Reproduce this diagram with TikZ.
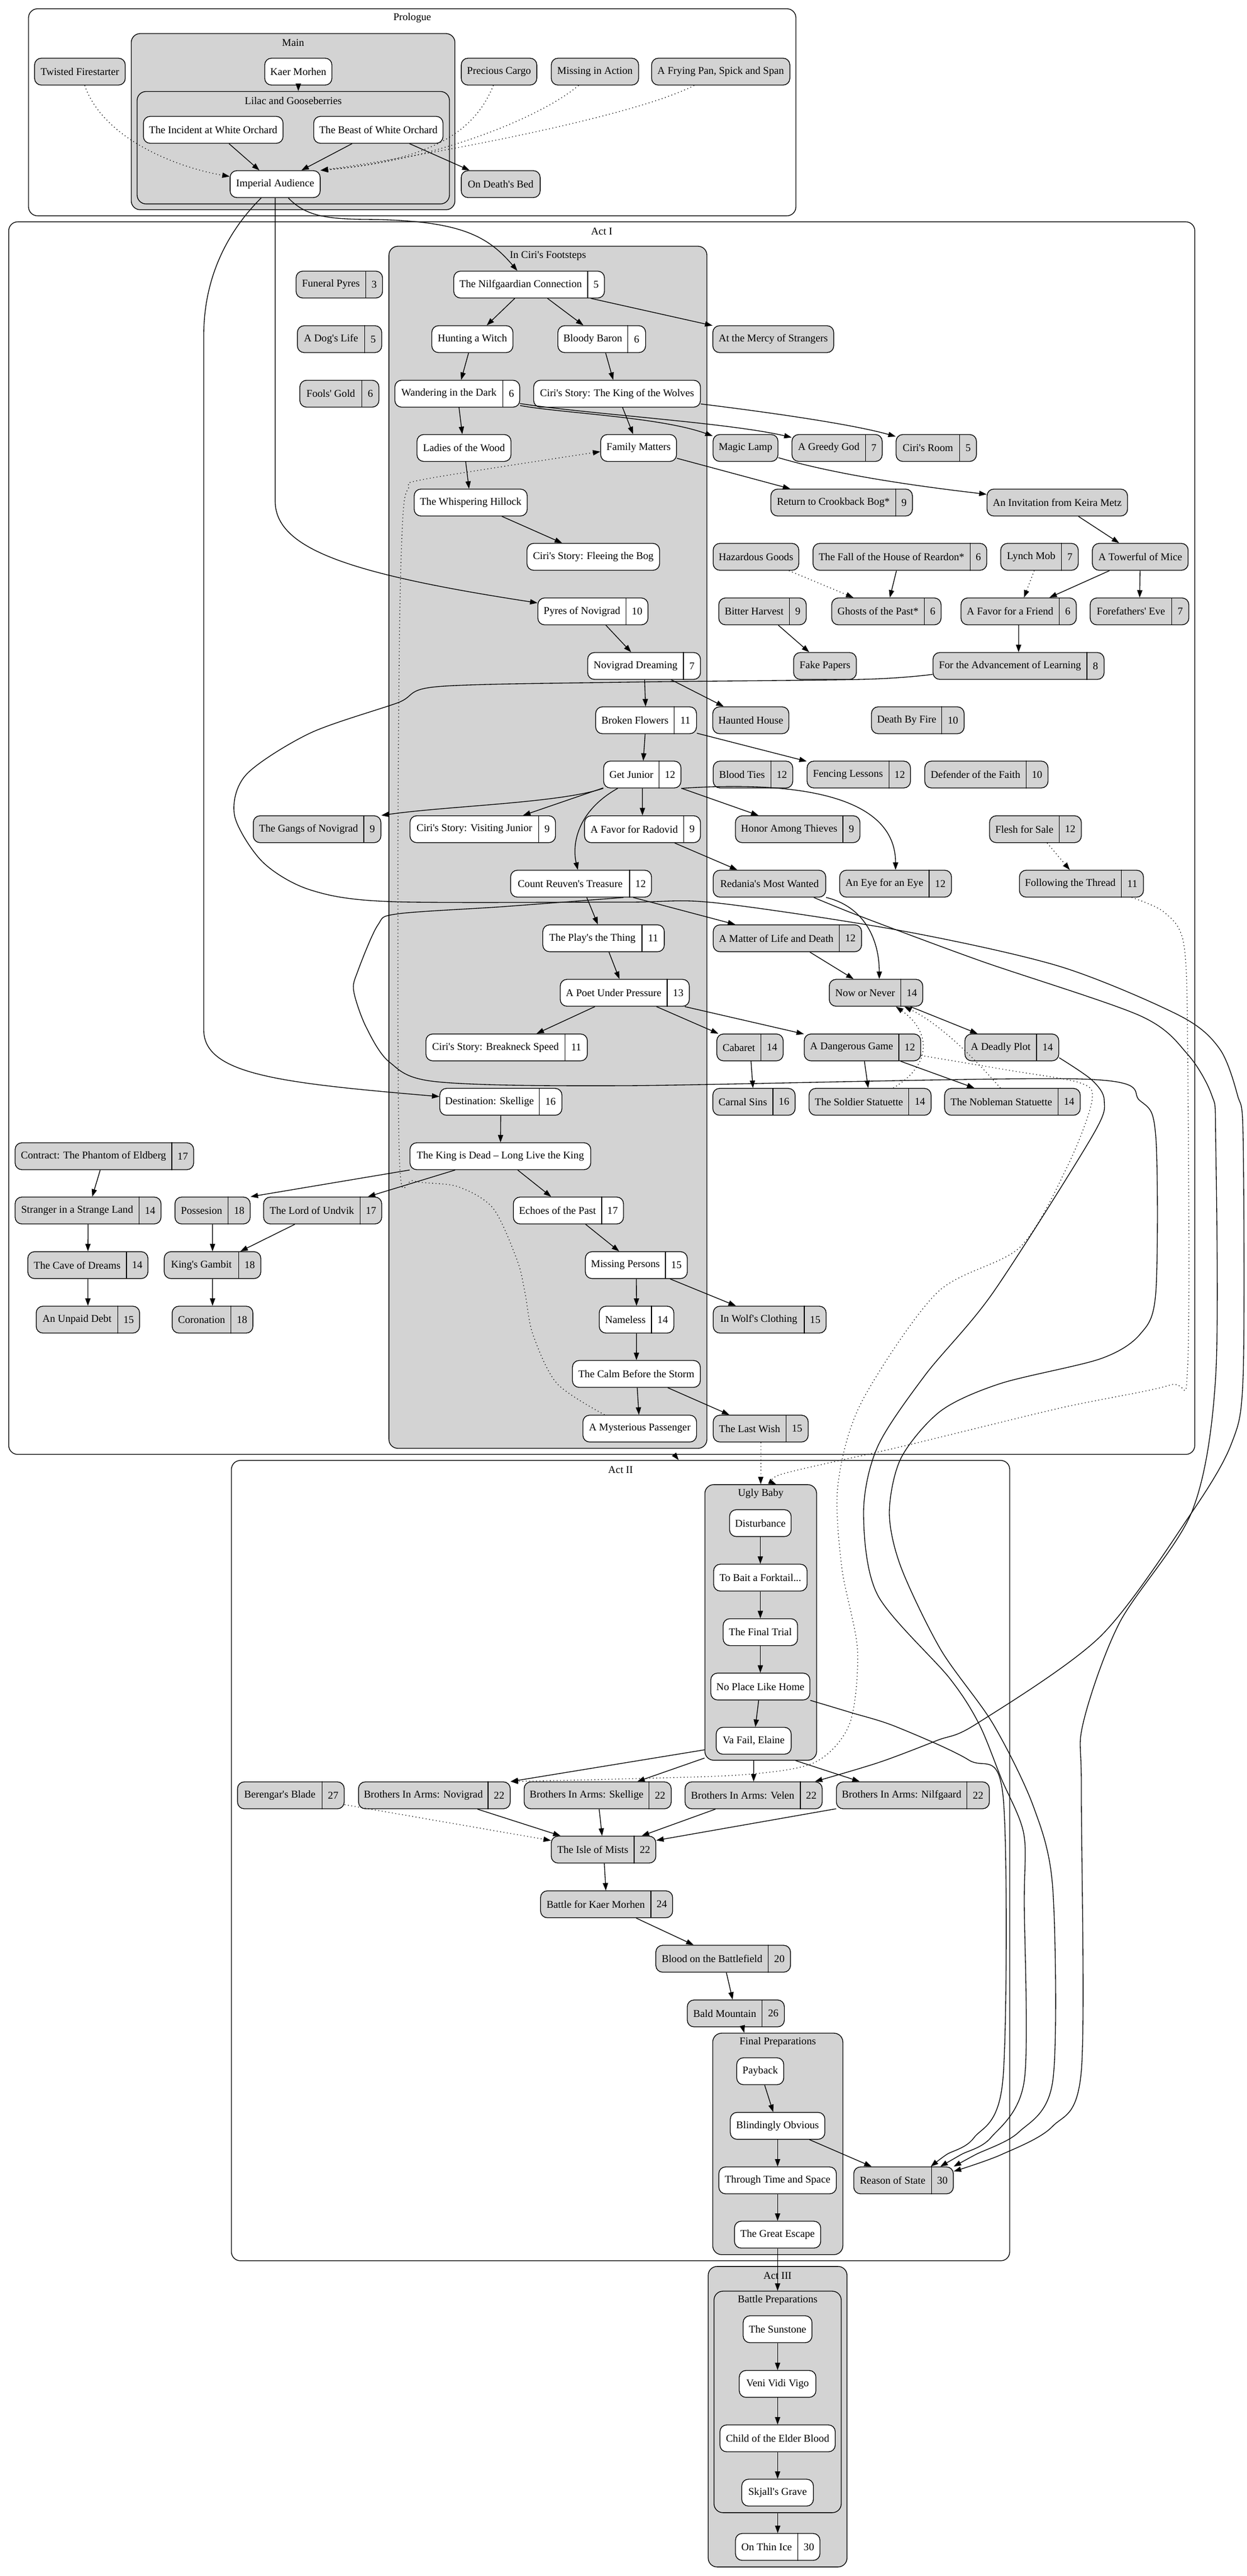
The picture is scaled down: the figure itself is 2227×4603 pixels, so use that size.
\documentclass[tikz,border=0pt]{standalone}
\usepackage{fontspec}
\setmainfont{Liberation Serif}
\usetikzlibrary{arrows.meta}
\definecolor{gv}{HTML}{D3D3D3}
\newcommand{\q}{\textquotesingle}
\tikzset{
  lbl/.style={font=\fontsize{14}{16}\selectfont, inner sep=0pt},
  qbox/.style={draw, line width=1pt, rounded corners=9pt, minimum height=36pt, inner sep=0pt, font=\fontsize{14}{16}\selectfont},
  qw/.style={qbox, fill=white},
  qg/.style={qbox, fill=gv},
  clu/.style={draw, line width=1pt, rounded corners=12pt, inner sep=0pt},
  cw/.style={clu, fill=white},
  cg/.style={clu, fill=gv},
  arr/.style={draw, line width=1pt, -{Triangle[length=10pt,width=7pt]}},
  darr/.style={arr, dash pattern=on 1pt off 3.6pt},
}
\newcommand{\qn}[6]{\node[#1, minimum width={#5*0.75pt}] (#2) at (#3,#4) {#6};}
\newcommand{\qr}[8]{%
  \node[#1, minimum width={(#5-#3)*0.75pt}] (#2) at ({(#3+#5)/2},#6) {};
  \node[lbl] (#2t) at ({(#3+#4)/2},#6) {#7};
  \node[lbl] (#2n) at ({(#4+#5)/2},#6) {#8};
  \draw[line width=1pt] (#2.north -| #4,0) -- (#2.south -| #4,0);}
\newcommand{\cl}[8]{%
  \node[#1, minimum width={(#5-#3)*0.75pt}, minimum height={(#6-#4)*0.75pt}] (#2) at ({(#3+#5)/2},{(#4+#6)/2}) {};
  \node[lbl] (#2l) at ({(#3+#5)/2},#7) {#8};}
\begin{document}
\begin{tikzpicture}[x=0.75pt,y=-0.75pt]
\useasboundingbox (0,0) rectangle (2227,4603);
\fill[white] (0,0) rectangle (2227,4603);
% clusters
\cl{cw}{prol}{51}{15.7}{1422}{385.6}{32}{Prologue}
\cl{cg}{mainc}{234.5}{60}{812.8}{374.8}{76}{Main}
\cl{cg}{lilac}{245}{163.5}{803}{364.4}{180}{Lilac and Gooseberries}
\cl{cw}{act1}{15.6}{396.4}{2134.7}{2598.8}{413.5}{Act I}
\cl{cg}{icf}{694.9}{440}{1263}{2588}{457}{In Ciri\q s Footsteps}
\cl{cw}{act2}{413.5}{2609.6}{1804}{4039.7}{2626}{Act II}
\cl{cg}{ub}{1259.4}{2652.8}{1459}{3145.3}{2669.5}{Ugly Baby}
\cl{cg}{fprep}{1273.4}{3633}{1505.9}{4028.7}{3649}{Final Preparations}
\cl{cg}{act3}{1265.3}{4049.8}{1513.3}{4586.8}{4066}{Act III}
\cl{cg}{bprep}{1275.7}{4094}{1503}{4489.8}{4110}{Battle Preparations}
% prologue nodes
\qn{qg}{tf}{142.8}{128}{162}{Twisted Firestarter}
\qn{qw}{km}{533}{128}{120}{Kaer Morhen}
\qn{qg}{pc}{891.6}{128}{135}{Precious Cargo}
\qn{qg}{mia}{1063}{128}{156}{Missing in Action}
\qn{qg}{fp}{1287.7}{128}{247}{A Frying Pan, Spick and Span}
\qn{qw}{inc}{381}{232}{249.5}{The Incident at White Orchard}
\qn{qw}{beast}{676}{232}{231}{The Beast of White Orchard}
\qn{qw}{ia}{491.6}{329}{161}{Imperial Audience}
\qn{qg}{odb}{894.6}{329}{141}{On Death\q s Bed}
% act I plain nodes
\qn{qw}{hw}{844}{606}{145}{Hunting a Witch}
\qn{qg}{amos}{1381.6}{606}{216}{At the Mercy of Strangers}
\qn{qw}{kotw}{1102.5}{703.5}{298}{Ciri\q s Story: The King of the Wolves}
\qn{qw}{lotw}{829}{800.5}{168}{Ladies of the Wood}
\qn{qw}{fm}{1141}{800.5}{135.5}{Family Matters}
\qn{qg}{ml}{1332}{800.5}{116}{Magic Lamp}
\qn{qw}{wh}{841}{898}{202}{The Whispering Hillock}
\qn{qg}{invk}{1889}{898}{251}{An Invitation from Keira Metz}
\qn{qw}{ftb}{1060}{995}{237}{Ciri\q s Story: Fleeing the Bog}
\qn{qg}{hg}{1350.7}{995}{153}{Hazardous Goods}
\qn{qg}{tom}{2037.3}{995}{171}{A Towerful of Mice}
\qn{qg}{fpap}{1474}{1190}{112}{Fake Papers}
\qn{qg}{hh}{1341.5}{1287}{136}{Haunted House}
\qn{qg}{rmw}{1374.8}{1579}{201}{Redania\q s Most Wanted}
\qn{qw}{kid}{894}{2066}{323}{The King is Dead – Long Live the King}
\qn{qw}{tcbs}{1137}{2455}{228.5}{The Calm Before the Storm}
\qn{qw}{mp}{1143}{2552.7}{203}{A Mysterious Passenger}
% act I record nodes
\qr{qg}{fpy}{529}{653.6}{683.5}{508.5}{Funeral Pyres}{3}
\qr{qw}{nc}{810.7}{1050}{1080}{508.5}{The Nilfgaardian Connection}{5}
\qr{qg}{dl}{531.4}{651.5}{682}{606}{A Dog\q s Life}{5}
\qr{qw}{bb}{996.8}{1121.5}{1153.5}{606}{Bloody Baron}{6}
\qr{qg}{fg}{535.7}{646.5}{677}{703.5}{Fools\q{} Gold}{6}
\qr{qw}{witd}{705.5}{898.8}{928.6}{703.5}{Wandering in the Dark}{6}
\qr{qg}{agg}{1415}{1546.4}{1576.2}{800.5}{A Greedy God}{7}
\qr{qg}{cr}{1601}{1714.8}{1744.6}{800.5}{Ciri\q s Room}{5}
\qr{qg}{rcb}{1377.3}{1600.4}{1630.2}{898}{Return to Crookback Bog*}{9}
\qr{qg}{fhr}{1452.6}{1733.2}{1763}{995}{The Fall of the House of Reardon*}{6}
\qr{qg}{lm}{1788}{1896.7}{1926.5}{995}{Lynch Mob}{7}
\qr{qw}{pon}{961}{1118.7}{1157.8}{1092.5}{Pyres of Novigrad}{10}
\qr{qg}{bh}{1284.2}{1410.7}{1440.5}{1092.5}{Bitter Harvest}{9}
\qr{qg}{gotp}{1486}{1651.5}{1681.4}{1092.5}{Ghosts of the Past*}{6}
\qr{qg}{fff}{1717}{1892.4}{1923}{1092.5}{A Favor for a Friend}{6}
\qr{qg}{fe}{1947.8}{2093.5}{2124}{1092.5}{Forefathers\q{} Eve}{7}
\qr{qw}{nd}{1050}{1221}{1251.5}{1190}{Novigrad Dreaming}{7}
\qr{qg}{fal}{1667}{1942}{1972.7}{1190}{For the Advancement of Learning}{8}
\qr{qw}{bf}{1064.3}{1204.7}{1244.4}{1287}{Broken Flowers}{11}
\qr{qg}{dbf}{1557}{1682.8}{1722.6}{1287}{Death By Fire}{10}
\qr{qw}{gj}{1078.5}{1177.7}{1216.7}{1384}{Get Junior}{12}
\qr{qg}{bt}{1274.3}{1377.3}{1416.4}{1384}{Blood Ties}{12}
\qr{qg}{fl}{1442}{1588.3}{1626.7}{1384}{Fencing Lessons}{12}
\qr{qg}{dotf}{1652.3}{1833.4}{1872.5}{1384}{Defender of the Faith}{10}
\qr{qg}{gon}{452.6}{650}{680.6}{1481.7}{The Gangs of Novigrad}{9}
\qr{qw}{cvj}{732.5}{962.7}{992.5}{1481.7}{Ciri\q s Story: Visiting Junior}{9}
\qr{qw}{ffr}{1044.4}{1221.7}{1251.5}{1481.7}{A Favor for Radovid}{9}
\qr{qg}{hat}{1314}{1506}{1536.5}{1481.7}{Honor Among Thieves}{9}
\qr{qg}{ffs}{1768}{1892.4}{1932}{1481.7}{Flesh for Sale}{12}
\qr{qw}{crt}{912.3}{1125}{1164}{1579}{Count Reuven\q s Treasure}{12}
\qr{qg}{eye}{1500.2}{1660}{1700}{1579}{An Eye for an Eye}{12}
\qr{qg}{ftt}{1821.4}{2003.2}{2043}{1579}{Following the Thread}{11}
\qr{qw}{ptt}{969.8}{1147}{1186.9}{1676.6}{The Play\q s the Thing}{11}
\qr{qg}{mld}{1274.3}{1499.5}{1539.3}{1676.6}{A Matter of Life and Death}{12}
\qr{qw}{pup}{1001}{1191.9}{1231.6}{1774}{A Poet Under Pressure}{13}
\qr{qg}{non}{1481.7}{1609.6}{1648.7}{1774}{Now or Never}{14}
\qr{qw}{cbs}{761}{1009.6}{1049.4}{1871.6}{Ciri\q s Story: Breakneck Speed}{11}
\qr{qg}{cab}{1280.7}{1359.5}{1399.3}{1871.6}{Cabaret}{14}
\qr{qg}{adg}{1437}{1606}{1645}{1871.6}{A Dangerous Game}{12}
\qr{qg}{adp}{1724}{1852}{1891.7}{1871.6}{A Deadly Plot}{14}
\qr{qw}{dsk}{785.8}{963.4}{1004}{1968.8}{Destination: Skellige}{16}
\qr{qg}{cs}{1273.6}{1380.9}{1420.6}{1968.8}{Carnal Sins}{16}
\qr{qg}{sst}{1445.5}{1623.8}{1663.6}{1968.8}{The Soldier Statuette}{14}
\qr{qg}{nst}{1687.8}{1890.3}{1930}{1968.8}{The Nobleman Statuette}{14}
\qr{qg}{cpe}{27}{307}{346}{2066}{Contract: The Phantom of Eldberg}{17}
\qr{qg}{ssl}{27}{248.7}{287.7}{2163}{Stranger in a Strange Land}{14}
\qr{qg}{pos}{312.6}{407.8}{447}{2163}{Possesion}{18}
\qr{qg}{lou}{471}{643.7}{682}{2163}{The Lord of Undvik}{17}
\qr{qw}{eotp}{917.2}{1075}{1114}{2163}{Echoes of the Past}{17}
\qr{qg}{cod}{49.7}{226}{264.3}{2260.6}{The Cave of Dreams}{14}
\qr{qg}{kg}{293.4}{426.3}{466}{2260.6}{King\q s Gambit}{18}
\qr{qw}{mpers}{1045.8}{1189}{1228}{2260.6}{Missing Persons}{15}
\qr{qg}{upd}{64.7}{210.3}{249.4}{2358}{An Unpaid Debt}{15}
\qr{qg}{cor}{307.6}{412.8}{451.9}{2358}{Coronation}{18}
\qr{qw}{nam}{1070.7}{1164}{1204}{2358}{Nameless}{14}
\qr{qg}{iwc}{1274.3}{1437}{1476}{2358}{In Wolf\q s Clothing}{15}
\qr{qg}{tlw}{1274.3}{1404.3}{1444}{2552.7}{The Last Wish}{15}
% act II
\qn{qw}{dist}{1358.5}{2721.6}{110}{Disturbance}
\qn{qw}{bait}{1358.5}{2819}{167}{To Bait a Forktail...}
\qn{qw}{ftr}{1358.5}{2916.4}{133}{The Final Trial}
\qn{qw}{nplh}{1358.5}{3013.6}{177}{No Place Like Home}
\qn{qw}{vfe}{1346.6}{3110.5}{134}{Va Fail, Elaine}
\qr{qg}{bbl}{424.4}{575.5}{615}{3208}{Berengar\q s Blade}{27}
\qr{qg}{bian}{640.6}{872}{911.6}{3208}{Brothers In Arms: Novigrad}{22}
\qr{qg}{bias}{936.5}{1159.7}{1199.2}{3208}{Brothers In Arms: Skellige}{22}
\qr{qg}{biav}{1224}{1430}{1469}{3208}{Brothers In Arms: Velen}{22}
\qr{qg}{bianf}{1494.4}{1727.4}{1767.6}{3208}{Brothers In Arms: Nilfgaard}{22}
\qr{qg}{iom}{985}{1133}{1171.8}{3305}{The Isle of Mists}{22}
\qr{qg}{bkm}{965.8}{1162.9}{1201.8}{3402.7}{Battle for Kaer Morhen}{24}
\qr{qg}{bob}{1171.8}{1372.7}{1412.3}{3500}{Blood on the Battlefield}{20}
\qr{qg}{bm}{1228}{1361.8}{1401.4}{3597.7}{Bald Mountain}{26}
\qn{qw}{pay}{1358.3}{3701}{84}{Payback}
\qn{qw}{bo}{1389.3}{3798.6}{169}{Blindingly Obvious}
\qn{qw}{ttas}{1389.3}{3896}{210}{Through Time and Space}
\qn{qw}{tge}{1389.3}{3993}{154}{The Great Escape}
\qr{qg}{ros}{1525.4}{1664.3}{1703.3}{3896}{Reason of State}{30}
% act III
\qn{qw}{sun}{1389.3}{4162}{123}{The Sunstone}
\qn{qw}{vvv}{1389.3}{4259.7}{137}{Veni Vidi Vigo}
\qn{qw}{cteb}{1389.3}{4357}{206}{Child of the Elder Blood}
\qn{qw}{sg}{1389.3}{4454}{128}{Skjall\q s Grave}
\qr{qw}{oti}{1314}{1425.5}{1465}{4551}{On Thin Ice}{30}
% ---------- edges: prologue
\draw[arr] (km) -- (km |- lilac.north);
\draw[arr] (inc) -- (ia);
\draw[arr] (beast) -- (ia);
\draw[arr] (beast) -- (odb);
\draw[darr] (tf) .. controls (185,250) and (320,300) .. (ia);
\draw[darr] (pc) .. controls (850,230) and (780,285) .. (ia.north east);
\draw[darr] (mia) .. controls (960,215) and (760,290) .. (ia.north east);
\draw[darr] (fp) .. controls (1130,210) and (750,280) .. (ia.north east);
\draw[arr] (ia) .. controls (545,385) and (580,391) .. (650,392) .. controls (820,393) and (870,420) .. (nc);
\draw[arr] (ia) -- (491.6,895) .. controls (491.6,980) and (620,1025) .. (pon);
\draw[arr] (ia) .. controls (420,400) and (364,480) .. (364,600) -- (364,1840) .. controls (364,1920) and (500,1935) .. (dsk);
% ---------- edges: act I
\draw[arr] (nc) -- (hw);
\draw[arr] (nc) -- (bb);
\draw[arr] (nc) -- (amos);
\draw[arr] (hw) -- (witd);
\draw[arr] (bb) -- (kotw);
\draw[arr] (witd) -- (lotw);
\draw[arr] (witd) .. controls (1000,738) and (1180,745) .. (ml);
\draw[arr] (witd) .. controls (1050,740) and (1300,755) .. (agg);
\draw[arr] (kotw) -- (fm);
\draw[arr] (kotw) .. controls (1400,740) and (1530,760) .. (cr);
\draw[arr] (lotw) -- (wh);
\draw[arr] (wh) -- (ftb);
\draw[arr] (pon) -- (nd);
\draw[arr] (fm) -- (rcb);
\draw[arr] (ml) .. controls (1500,850) and (1650,870) .. (invk);
\draw[arr] (invk) -- (tom);
\draw[darr] (hg) -- (gotp);
\draw[arr] (fhr) -- (gotp);
\draw[darr] (lm) -- (fff);
\draw[arr] (tom) -- (fff);
\draw[arr] (tom) -- (fe);
\draw[arr] (bh) -- (fpap);
\draw[arr] (fff) -- (fal);
\draw[arr] (nd) -- (hh);
\draw[arr] (nd) -- (bf);
\draw[arr] (bf) -- (gj);
\draw[arr] (bf) -- (fl);
\draw[arr] (gj.south west) .. controls (1000,1435) and (800,1440) .. (gon.north east);
\draw[arr] (gj) -- (cvj);
\draw[arr] (gj) .. controls (1030,1450) and (1022,1510) .. (crt);
\draw[arr] (gj) -- (ffr);
\draw[arr] (gj) -- (hat);
\draw[arr] (gj.south east) .. controls (1420,1395) and (1600,1420) .. (eye);
\draw[arr] (ffr) -- (rmw);
\draw[darr] (ffs) -- (ftt);
\draw[arr] (crt) -- (ptt);
\draw[arr] (crt) -- (mld);
\draw[arr] (ptt) -- (pup);
\draw[arr] (pup) -- (cbs);
\draw[arr] (pup) -- (cab);
\draw[arr] (pup) -- (adg);
\draw[arr] (mld) -- (non);
\draw[arr] (rmw.south east) .. controls (1545,1620) and (1571,1680) .. (1571,0 |- non.north);
\draw[arr] (non) -- (adp);
\draw[darr] (sst) .. controls (1670,1900) and (1660,1840) .. (non);
\draw[darr] (nst) .. controls (1740,1890) and (1680,1830) .. (non);
\draw[arr] (adg) -- (sst);
\draw[arr] (adg) -- (nst);
\draw[arr] (cab) -- (cs);
\draw[arr] (dsk) -- (kid);
\draw[arr] (kid.south west) -- (pos.north east);
\draw[arr] (kid) -- (lou);
\draw[arr] (kid) -- (eotp);
\draw[arr] (eotp) -- (mpers);
\draw[arr] (mpers) -- (nam);
\draw[arr] (mpers) -- (iwc);
\draw[arr] (nam) -- (tcbs);
\draw[arr] (tcbs) -- (mp);
\draw[arr] (tcbs) -- (tlw);
\draw[arr] (cpe) -- (ssl);
\draw[arr] (ssl) -- (cod);
\draw[arr] (cod) -- (upd);
\draw[arr] (pos) -- (kg);
\draw[arr] (lou) -- (kg);
\draw[arr] (kg) -- (cor);
% long curves
\coordinate (a0) at (fal.west |- 0,1205);
\coordinate (a1) at (1456,0 |- biav.north);
\draw[arr] plot[smooth] coordinates {(a0) (1539,1214) (1114,1219) (781,1227) (710,1256) (554,1310) (440,1384) (419,1457) (469,1540) (554,1590) (696,1611) (1114,1612) (1276,1613) (1610,1663) (1894,1727) (2108,1815) (2179,1874) (2211,1957) (2221,2031) (2221,2460) (2200,2580) (2129,2703) (1966,2924) (1745,3080) (1674,3110) (1571,3149) (a1)};
\coordinate (b0) at (1454,0 |- rmw.south);
\coordinate (b1) at (ros.east |- 0,3880);
\draw[arr] plot[smooth] coordinates {(b0) (1539,1638) (1752,1717) (2037,1815) (2122,1884) (2165,1957) (2172,2031) (2172,2460) (2130,2700) (2000,2900) (1935,3080) (1932,3200) (1932,3700) (1880,3800) (1789,3850) (b1)};
\coordinate (c0) at (1114,0 |- crt.south);
\coordinate (c1) at (ros.north east);
\draw[arr] plot[smooth] coordinates {(c0) (900,1620) (710,1633) (675,1653) (639,1736) (632,1771) (654,1835) (696,1898) (781,1933) (1114,1940) (1930,1928) (2037,1967) (2065,2031) (2065,2310) (2037,2384) (1966,2428) (1788,2472) (1681,2521) (1610,2605) (1589,2703) (1610,2801) (1681,2948) (1774,3080) (1846,3227) (1881,3375) (1881,3718) (1820,3810) (1743,3850) (c1)};
\coordinate (d0) at (adp.east |- 0,1890);
\coordinate (d1) at (1680,0 |- ros.north);
\draw[arr] plot[smooth] coordinates {(d0) (1951,1930) (1973,1967) (1951,2031) (1774,2310) (1653,2457) (1568,2585) (1543,2703) (1568,2850) (1696,2998) (1749,3080) (1789,3178) (1829,3276) (1830,3400) (1830,3718) (1770,3820) (1717,3850) (d1)};
\coordinate (e0) at (nplh.south east);
\coordinate (e1) at (1663,0 |- ros.north);
\draw[arr] plot[smooth] coordinates {(e0) (1520,3060) (1600,3085) (1731,3145) (1792,3208) (1792,3714) (1740,3820) (1691,3850) (e1)};
\coordinate (g0) at (adg.east |- 0,1886);
\coordinate (g1) at (bian.north east);
\draw[darr] plot[smooth] coordinates {(g0) (1800,1912) (1930,1935) (1951,1967) (1909,2080) (1823,2228) (1674,2310) (1539,2506) (1497,2654) (1504,2801) (1532,2948) (1518,3080) (1456,3149) (1330,3171) (1100,3179) (g1)};
\coordinate (f0) at (2022,0 |- ftt.south);
\coordinate (f1) at (1386.5,0 |- ub.north);
\draw[darr] plot[smooth] coordinates {(f0) (2080,1630) (2115,1687) (2122,1884) (2122,2440) (2090,2475) (1894,2516) (1610,2585) (1397,2634) (f1)};
\draw[darr] (tlw) -- (tlw |- ub.north);
\coordinate (m0) at (1080,0 |- mp.north);
\coordinate (m1) at (fm.west |- 0,807);
\draw[darr] plot[smooth] coordinates {(m0) (995,2472) (952,2384) (938,2310) (924,2252) (881,2159) (817,2120) (739,2110) (714,2080) (711,1540) (714,1114) (720,920) (730,872) (760,856) (m1)};
\draw[arr] (1205,0 |- act1.south) -- (1212.5,0 |- act2.north);
% ---------- edges: act II
\draw[arr] (dist) -- (bait);
\draw[arr] (bait) -- (ftr);
\draw[arr] (ftr) -- (nplh);
\draw[arr] (nplh) -- (vfe);
\draw[arr] (ub.west |- 0,3126.7) -- (bian.north east);
\draw[arr] (ub.west |- 0,3141.4) -- (1138.6,0 |- bias.north);
\draw[arr] (vfe |- ub.south) -- (biav);
\draw[arr] (1421.5,0 |- ub.south) -- (1536,0 |- bianf.north);
\draw[arr] (bian) -- (iom);
\draw[arr] (bias) -- (iom);
\draw[arr] (biav) -- (iom);
\draw[arr] (bianf) -- (iom);
\draw[darr] (bbl) -- (iom);
\draw[arr] (iom) -- (bkm);
\draw[arr] (bkm) -- (bob);
\draw[arr] (bob) -- (bm);
\draw[arr] (1327,0 |- bm.south) -- (1329.6,0 |- fprep.north);
\draw[arr] (pay) -- (bo);
\draw[arr] (bo) -- (ttas);
\draw[arr] (ttas) -- (tge);
\draw[arr] (bo) -- (ros);
\draw[arr] (tge) -- (tge |- bprep.north);
% ---------- edges: act III
\draw[arr] (sun) -- (vvv);
\draw[arr] (vvv) -- (cteb);
\draw[arr] (cteb) -- (sg);
\draw[arr] (oti |- bprep.south) -- (oti);
\end{tikzpicture}
\end{document}
